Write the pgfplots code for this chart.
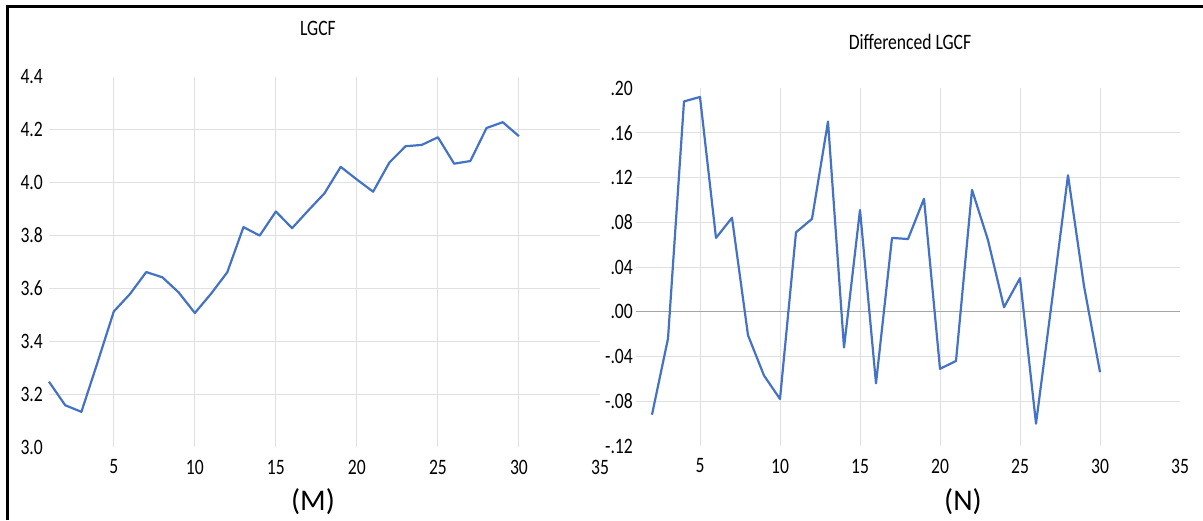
\documentclass[border=0pt]{standalone}
\usepackage{pgfplots}
\pgfplotsset{compat=1.18}
\usepackage{fontspec}
\setmainfont{Carlito}[FakeStretch=0.8]
\newfontfamily\labfont{Carlito}
\definecolor{xlblue}{HTML}{4472C4}
\definecolor{gridc}{HTML}{E0E0E0}
\definecolor{zeroc}{HTML}{A6A6A6}
\pgfplotstableread{
x y
1 3.247
2 3.158
3 3.133
4 3.321
5 3.513
6 3.579
7 3.662
8 3.642
9 3.585
10 3.507
11 3.580
12 3.661
13 3.832
14 3.800
15 3.891
16 3.828
17 3.895
18 3.960
19 4.060
20 4.012
21 3.966
22 4.076
23 4.138
24 4.143
25 4.172
26 4.072
27 4.082
28 4.207
29 4.229
30 4.176
}\lgcf
\pgfplotstableread{
x y
2 -0.092
3 -0.024
4 0.188
5 0.192
6 0.066
7 0.084
8 -0.021
9 -0.057
10 -0.078
11 0.071
12 0.083
13 0.170
14 -0.032
15 0.091
16 -0.064
17 0.066
18 0.065
19 0.101
20 -0.051
21 -0.044
22 0.109
23 0.064
24 0.004
25 0.030
26 -0.100
27 0.010
28 0.122
29 0.023
30 -0.054
}\dlgcf
\begin{document}
\begin{tikzpicture}
\useasboundingbox (0pt,0pt) rectangle (1203pt,520pt);
\pgfplotsset{
  panel/.style={
    anchor=south west, scale only axis,
    axis line style={draw=none},
    major tick length=0pt,
    tick label style={font=\fontsize{22}{26}\selectfont, inner sep=0pt},
    xticklabel style={anchor=center, yshift=-20pt},
    xmin=1, xmax=35,
    xtick={5,10,15,20,25,30,35},
    xticklabels={5,10,15,20,25,30,35},
    extra x ticks={5,10,15,20,25,30},
    extra x tick labels={},
    extra x tick style={grid=major, major grid style={gridc, line width=1pt}},
    extra y tick labels={},
    extra y tick style={grid=major, major grid style={gridc, line width=1pt}},
    clip=false,
  }
}
\begin{axis}[panel,
  at={(49pt,73pt)}, width=551pt, height=370pt,
  ymin=3.0, ymax=4.4,
  ytick={3.0,3.2,3.4,3.6,3.8,4.0,4.2,4.4},
  yticklabels={3.0,3.2,3.4,3.6,3.8,4.0,4.2,4.4},
  yticklabel style={anchor=east, xshift=-6pt},
  extra y ticks={3.2,3.4,3.6,3.8,4.0,4.2},
]
\addplot[xlblue, line width=2.2pt, line join=round] table[x=x,y=y]{\lgcf};
\end{axis}
\begin{axis}[panel,
  at={(636pt,74pt)}, width=544pt, height=358pt,
  ymin=-0.12, ymax=0.20,
  ytick={-0.12,-0.08,-0.04,0,0.04,0.08,0.12,0.16,0.20},
  yticklabels={-.12,-.08,-.04,.00,.04,.08,.12,.16,.20},
  yticklabel style={anchor=east, xshift=-3pt},
  extra y ticks={-0.08,-0.04,0.04,0.08,0.12,0.16},
]
\draw[zeroc, line width=1pt] (axis cs:1,0) -- (axis cs:35,0);
\addplot[xlblue, line width=2.2pt, line join=round] table[x=x,y=y]{\dlgcf};
\end{axis}
\node[font=\fontsize{22}{26}\selectfont] at (318pt,492pt) {LGCF};
\node[font=\fontsize{22}{26}\selectfont] at (910pt,478pt) {Differenced LGCF};
\node[font=\labfont\fontsize{30}{34}\selectfont] at (313pt,18pt) {(M)};
\node[font=\labfont\fontsize{30}{34}\selectfont] at (963pt,18pt) {(N)};
\draw[line width=3pt] (7pt,0pt) -- (7pt,513pt) -- (1203pt,513pt);
\end{tikzpicture}
\end{document}
